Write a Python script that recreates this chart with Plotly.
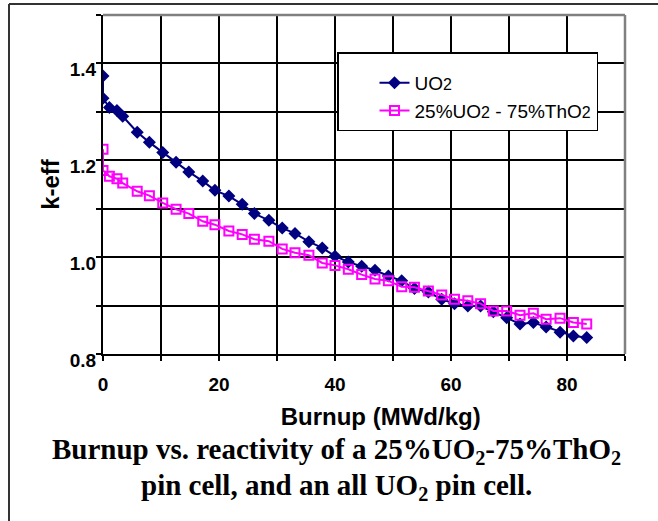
import plotly.graph_objects as go

# ---- data ----
burnup = [0, 0, 1.1, 2.4, 3.4, 5.9, 8.0, 10.3, 12.6, 14.8, 17.2, 19.3, 21.7, 24.0,
          26.1, 28.6, 30.9, 33.1, 35.5, 37.8, 40.0, 42.3, 44.6, 46.9, 49.2, 51.5,
          53.7, 56.1, 58.4, 60.6, 62.9, 65.1, 67.3, 69.6, 71.9, 74.2, 76.4, 78.8,
          81.1, 83.4]
keff_uo2 = [1.374, 1.328, 1.309, 1.303, 1.291, 1.258, 1.237, 1.216, 1.196, 1.176,
            1.157, 1.138, 1.126, 1.109, 1.090, 1.076, 1.060, 1.049, 1.032, 1.019,
            1.002, 0.990, 0.981, 0.973, 0.961, 0.951, 0.935, 0.928, 0.913, 0.904,
            0.899, 0.899, 0.887, 0.875, 0.862, 0.865, 0.856, 0.845, 0.837, 0.834]
keff_mix = [1.223, 1.179, 1.167, 1.162, 1.153, 1.136, 1.127, 1.112, 1.099, 1.090,
            1.074, 1.067, 1.054, 1.047, 1.037, 1.033, 1.017, 1.009, 1.004, 0.988,
            0.983, 0.975, 0.964, 0.955, 0.951, 0.939, 0.938, 0.930, 0.922, 0.913,
            0.910, 0.904, 0.889, 0.889, 0.880, 0.884, 0.872, 0.874, 0.865, 0.862]

SUB = "<span style='font-size:16px'>2</span>"
series_names = ["UO" + SUB, "25%UO" + SUB + " - 75%ThO" + SUB]
x_tickvals = [0, 10, 20, 30, 40, 50, 60, 70, 80, 90]
x_ticktext = ["0", "", "20", "", "40", "", "60", "", "80", ""]
y_tickvals = [0.8, 0.9, 1.0, 1.1, 1.2, 1.3, 1.4, 1.5]
y_ticktext = ["0.8", "", "1.0", "", "1.2", "", "1.4", ""]
x_title = "Burnup (MWd/kg)"
y_title = "k-eff"
caption1 = "Burnup vs. reactivity of a 25%UO<sub>2</sub>-75%ThO<sub>2</sub>"
caption2 = "pin cell, and an all UO<sub>2</sub> pin cell."

# ---- layout geometry (pixels) ----
W, H = 658, 521
L, R, T, B = 103, 33, 15, 167
pw, ph = W - L - R, H - T - B


def px_x(px):
    return (px - L) / pw


def px_y(py):
    return (H - B - py) / ph


fig = go.Figure()
fig.add_trace(go.Scatter(
    x=burnup, y=keff_uo2, name=series_names[0], mode="lines+markers",
    line=dict(color="#000080", width=2),
    marker=dict(symbol="diamond", size=10, color="#000080"),
))
fig.add_trace(go.Scatter(
    x=burnup, y=keff_mix, name=series_names[1], mode="lines+markers",
    line=dict(color="#FF00FF", width=2),
    marker=dict(symbol="square-open", size=9, color="#FF00FF",
                line=dict(width=2, color="#FF00FF")),
))

SANS = "Liberation Sans, Arial"
tick_font = dict(family=SANS, size=19, color="black", weight="bold")
title_font = dict(family=SANS, size=24, color="black", weight="bold")
fig.update_layout(
    width=W, height=H,
    margin=dict(l=L, r=R, t=T, b=B, pad=0),
    paper_bgcolor="white", plot_bgcolor="white",
    showlegend=True,
    legend=dict(
        x=px_x(337), y=px_y(52), xanchor="left", yanchor="top",
        bgcolor="white", bordercolor="black", borderwidth=1.5,
        font=dict(family=SANS, size=19, color="black"),
        title=dict(text="&nbsp;", font=dict(size=8)),
        indentation=36,
        tracegroupgap=0,
    ),
    xaxis=dict(
        range=[0, 90], tickmode="array", tickvals=x_tickvals, ticktext=x_ticktext,
        showgrid=True, gridcolor="black", gridwidth=2,
        showline=True, linecolor="black", linewidth=2,
        ticks="outside", ticklen=5, tickwidth=2, tickcolor="black",
        tickfont=tick_font, zeroline=False, ticklabelstandoff=7,
        title=dict(text="&nbsp;" * 5 + x_title, standoff=14, font=title_font),
    ),
    yaxis=dict(
        range=[0.8, 1.5], tickmode="array", tickvals=y_tickvals, ticktext=y_ticktext,
        showgrid=True, gridcolor="black", gridwidth=2,
        showline=True, linecolor="black", linewidth=2,
        ticks="outside", ticklen=5, tickwidth=2, tickcolor="black",
        tickfont=tick_font, zeroline=False, ticklabelshift=6,
        ticklabelstandoff=-4,
        title=dict(text=y_title, standoff=3, font=title_font),
    ),
    font=dict(family=SANS, color="black"),
)

# grey top / right plot edges
fig.add_shape(type="line", xref="paper", yref="paper", x0=0, x1=1, y0=1, y1=1,
              line=dict(color="#808080", width=2.5), layer="above")
fig.add_shape(type="line", xref="paper", yref="paper", x0=1, x1=1, y0=0, y1=1,
              line=dict(color="#808080", width=2.5), layer="above")
# outer frame (top and left)
fig.add_shape(type="line", xref="paper", yref="paper",
              x0=px_x(9), x1=px_x(W + 2), y0=px_y(4), y1=px_y(4),
              line=dict(color="#333333", width=2), layer="above")
fig.add_shape(type="line", xref="paper", yref="paper",
              x0=px_x(9), x1=px_x(9), y0=px_y(4), y1=px_y(H + 2),
              line=dict(color="#333333", width=2), layer="above")

cap_font = dict(family="Liberation Serif, Times New Roman", size=29,
                color="black", weight="bold")
fig.add_annotation(text=caption1, xref="paper", yref="paper",
                   x=px_x(336), y=px_y(451), xanchor="center", yanchor="middle",
                   showarrow=False, font=cap_font)
fig.add_annotation(text=caption2, xref="paper", yref="paper",
                   x=px_x(336), y=px_y(487), xanchor="center", yanchor="middle",
                   showarrow=False, font=cap_font)

fig.write_html("out.html")
